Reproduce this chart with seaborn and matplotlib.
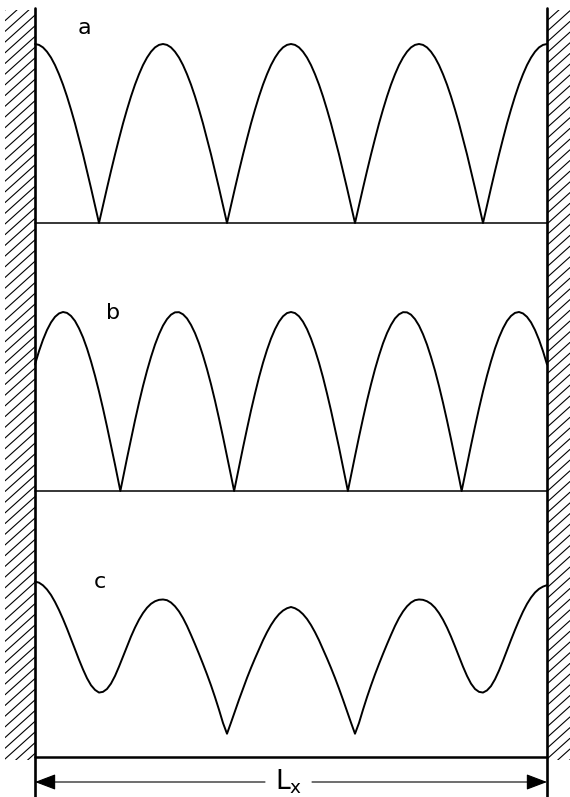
import matplotlib
matplotlib.use('Agg')
import matplotlib.pyplot as plt
import numpy as np
import seaborn as sns
from matplotlib.patches import Rectangle

# sample positions along the box, in units of L_x (wall to wall)
x_grid = [0.0000, 0.0078, 0.0156, 0.0234, 0.0313, 0.0391, 0.0469, 0.0547,
          0.0625, 0.0703, 0.0781, 0.0859, 0.0938, 0.1016, 0.1094, 0.1172,
          0.1250, 0.1328, 0.1406, 0.1484, 0.1563, 0.1641, 0.1719, 0.1797,
          0.1875, 0.1953, 0.2031, 0.2109, 0.2188, 0.2266, 0.2344, 0.2422,
          0.2500, 0.2578, 0.2656, 0.2734, 0.2813, 0.2891, 0.2969, 0.3047,
          0.3125, 0.3203, 0.3281, 0.3359, 0.3438, 0.3516, 0.3594, 0.3672,
          0.3750, 0.3828, 0.3906, 0.3984, 0.4063, 0.4141, 0.4219, 0.4297,
          0.4375, 0.4453, 0.4531, 0.4609, 0.4688, 0.4766, 0.4844, 0.4922,
          0.5000, 0.5078, 0.5156, 0.5234, 0.5313, 0.5391, 0.5469, 0.5547,
          0.5625, 0.5703, 0.5781, 0.5859, 0.5938, 0.6016, 0.6094, 0.6172,
          0.6250, 0.6328, 0.6406, 0.6484, 0.6563, 0.6641, 0.6719, 0.6797,
          0.6875, 0.6953, 0.7031, 0.7109, 0.7188, 0.7266, 0.7344, 0.7422,
          0.7500, 0.7578, 0.7656, 0.7734, 0.7813, 0.7891, 0.7969, 0.8047,
          0.8125, 0.8203, 0.8281, 0.8359, 0.8438, 0.8516, 0.8594, 0.8672,
          0.8750, 0.8828, 0.8906, 0.8984, 0.9063, 0.9141, 0.9219, 0.9297,
          0.9375, 0.9453, 0.9531, 0.9609, 0.9688, 0.9766, 0.9844, 0.9922,
          1.0000]

# panel a: 4 half waves, maxima at both walls
y_a = [1.000, 0.995, 0.981, 0.957, 0.924, 0.882, 0.831, 0.773,
       0.707, 0.634, 0.556, 0.471, 0.383, 0.290, 0.195, 0.098,
       0.000, 0.098, 0.195, 0.290, 0.383, 0.471, 0.556, 0.634,
       0.707, 0.773, 0.831, 0.882, 0.924, 0.957, 0.981, 0.995,
       1.000, 0.995, 0.981, 0.957, 0.924, 0.882, 0.831, 0.773,
       0.707, 0.634, 0.556, 0.471, 0.383, 0.290, 0.195, 0.098,
       0.000, 0.098, 0.195, 0.290, 0.383, 0.471, 0.556, 0.634,
       0.707, 0.773, 0.831, 0.882, 0.924, 0.957, 0.981, 0.995,
       1.000, 0.995, 0.981, 0.957, 0.924, 0.882, 0.831, 0.773,
       0.707, 0.634, 0.556, 0.471, 0.383, 0.290, 0.195, 0.098,
       0.000, 0.098, 0.195, 0.290, 0.383, 0.471, 0.556, 0.634,
       0.707, 0.773, 0.831, 0.882, 0.924, 0.957, 0.981, 0.995,
       1.000, 0.995, 0.981, 0.957, 0.924, 0.882, 0.831, 0.773,
       0.707, 0.634, 0.556, 0.471, 0.383, 0.290, 0.195, 0.098,
       0.000, 0.098, 0.195, 0.290, 0.383, 0.471, 0.556, 0.634,
       0.707, 0.773, 0.831, 0.882, 0.924, 0.957, 0.981, 0.995,
       1.000]

# panel b: 4.5 half waves, nodes at 0.167, 0.389, 0.611, 0.833
x_b = list(x_grid)
x_b[21], x_b[50], x_b[78], x_b[107] = 0.1667, 0.3889, 0.6111, 0.8333
y_b = [0.707, 0.781, 0.845, 0.899, 0.942, 0.973, 0.992, 1.000,
       0.995, 0.978, 0.950, 0.909, 0.858, 0.796, 0.724, 0.644,
       0.556, 0.461, 0.360, 0.255, 0.147, 0.000, 0.074, 0.183,
       0.290, 0.394, 0.493, 0.586, 0.672, 0.749, 0.818, 0.876,
       0.924, 0.960, 0.985, 0.998, 0.999, 0.987, 0.964, 0.928,
       0.882, 0.825, 0.757, 0.681, 0.596, 0.504, 0.405, 0.302,
       0.195, 0.086, 0.000, 0.134, 0.243, 0.348, 0.450, 0.545,
       0.635, 0.716, 0.788, 0.851, 0.904, 0.946, 0.976, 0.994,
       1.000, 0.994, 0.976, 0.946, 0.904, 0.851, 0.788, 0.716,
       0.635, 0.545, 0.450, 0.348, 0.243, 0.134, 0.000, 0.086,
       0.195, 0.302, 0.405, 0.504, 0.596, 0.681, 0.757, 0.825,
       0.882, 0.928, 0.964, 0.987, 0.999, 0.998, 0.985, 0.960,
       0.924, 0.876, 0.818, 0.749, 0.672, 0.586, 0.493, 0.394,
       0.290, 0.183, 0.074, 0.000, 0.147, 0.255, 0.360, 0.461,
       0.556, 0.644, 0.724, 0.796, 0.858, 0.909, 0.950, 0.978,
       0.995, 1.000, 0.992, 0.973, 0.942, 0.899, 0.845, 0.781,
       0.707]

# panel c: mixed state, minima never reach zero
y_c = [0.980, 0.974, 0.959, 0.936, 0.905, 0.866, 0.821, 0.771,
       0.717, 0.660, 0.602, 0.544, 0.489, 0.440, 0.401, 0.375,
       0.360, 0.364, 0.380, 0.410, 0.453, 0.505, 0.561, 0.618,
       0.673, 0.723, 0.767, 0.804, 0.834, 0.856, 0.870, 0.878,
       0.880, 0.876, 0.863, 0.842, 0.813, 0.776, 0.732, 0.682,
       0.630, 0.576, 0.520, 0.462, 0.400, 0.334, 0.264, 0.190,
       0.130, 0.192, 0.256, 0.320, 0.382, 0.442, 0.498, 0.551,
       0.602, 0.652, 0.697, 0.737, 0.771, 0.798, 0.818, 0.831,
       0.838, 0.831, 0.818, 0.798, 0.771, 0.737, 0.697, 0.652,
       0.602, 0.551, 0.498, 0.442, 0.382, 0.320, 0.256, 0.192,
       0.130, 0.190, 0.264, 0.334, 0.400, 0.462, 0.520, 0.576,
       0.630, 0.682, 0.732, 0.776, 0.813, 0.842, 0.863, 0.876,
       0.880, 0.878, 0.870, 0.856, 0.834, 0.804, 0.767, 0.723,
       0.673, 0.618, 0.561, 0.505, 0.453, 0.410, 0.380, 0.364,
       0.360, 0.372, 0.396, 0.434, 0.483, 0.538, 0.596, 0.654,
       0.710, 0.763, 0.812, 0.855, 0.891, 0.919, 0.939, 0.952,
       0.960]

panel_labels = ['a', 'b', 'c']
dim_label = 'L$_x$'

# layout, in pixels of the 570 x 797 figure
W, H = 570, 797
WALL_L, WALL_R = 35, 547
AMP = 179
baselines = [223, 491, 757]
label_pos = [(84, 28), (113, 313), (100, 582)]
DIM_Y = 782
GAP = (265, 312)

sns.set_style('white')
plt.rcParams['font.family'] = ['DejaVu Sans']
plt.rcParams['mathtext.default'] = 'regular'

fig = plt.figure(figsize=(W / 100, H / 100), dpi=100)

# background axes in pixel units for walls and dimension line
bg = fig.add_axes([0, 0, 1, 1])
bg.set_xlim(0, W)
bg.set_ylim(H, 0)
bg.axis('off')


def hatch_wall(x0, x1, y0=10, y1=760, step=10.7, slope=0.9):
    clip = Rectangle((x0, y0), x1 - x0, y1 - y0, transform=bg.transData)
    for c in np.arange(y0, y1 + slope * (x1 - x0) + step, step):
        ln, = bg.plot([x0, x1], [c, c - slope * (x1 - x0)], color='black', lw=0.8)
        ln.set_clip_path(clip)


hatch_wall(5, WALL_L)
hatch_wall(WALL_R, W)
bg.plot([WALL_L, WALL_L], [8, H], color='black', lw=1.9)
bg.plot([WALL_R, WALL_R], [8, H], color='black', lw=1.9)

arrow = dict(arrowstyle='-|>,head_length=1.0,head_width=0.38',
             color='black', lw=0.8, mutation_scale=13, shrinkA=0, shrinkB=0)
bg.annotate('', xy=(WALL_L, DIM_Y), xytext=(GAP[0], DIM_Y), arrowprops=arrow)
bg.annotate('', xy=(WALL_R, DIM_Y), xytext=(GAP[1], DIM_Y), arrowprops=arrow)
bg.text((GAP[0] + GAP[1]) / 2, DIM_Y, dim_label, fontsize=19, color='black',
        ha='center', va='center')

series = [(x_grid, y_a), (x_b, y_b), (x_grid, y_c)]
for i, (xs, ys) in enumerate(series):
    base = baselines[i]
    ax = fig.add_axes([WALL_L / W, 1 - base / H, (WALL_R - WALL_L) / W, AMP / H])
    ax.set_xlim(0, 1)
    ax.set_ylim(0, 1)
    ax.axis('off')
    sns.lineplot(x=xs, y=ys, ax=ax, color='black', lw=1.4, clip_on=False)
    ax.axhline(0, color='black', lw=1.8 if i == 2 else 1.1, clip_on=False)
    bg.text(label_pos[i][0], label_pos[i][1], panel_labels[i], fontsize=16,
            color='black', ha='center', va='center')

fig.savefig('out.png', dpi=100, facecolor='white')
